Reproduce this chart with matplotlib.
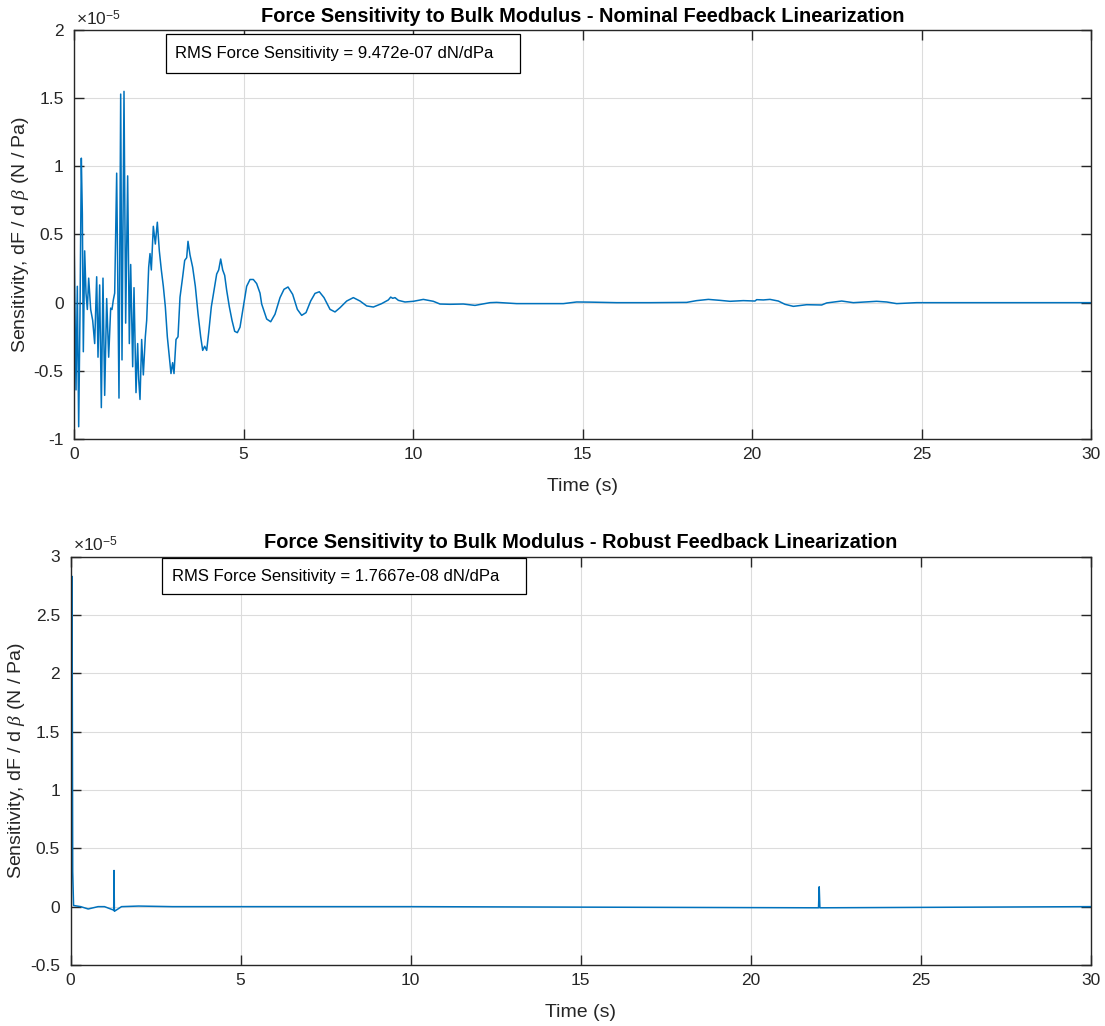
import matplotlib
matplotlib.use("Agg")
import matplotlib.pyplot as plt
from matplotlib.patches import Rectangle
from matplotlib.ticker import FuncFormatter, MultipleLocator

plt.rcParams["font.family"] = ["Liberation Sans", "DejaVu Sans"]
plt.rcParams["axes.unicode_minus"] = False
plt.rcParams["mathtext.fontset"] = "custom"
plt.rcParams["mathtext.rm"] = "Liberation Sans"
plt.rcParams["mathtext.it"] = "Liberation Serif:italic"
plt.rcParams["mathtext.bf"] = "Liberation Sans:bold"

# values are in units of 1e-5 N/Pa (axis shows x10^-5)
t_nominal = [
    0.000, 0.059, 0.098, 0.138, 0.177, 0.216, 0.246, 0.275, 0.315, 0.354,
    0.393, 0.433, 0.492, 0.551, 0.610, 0.669, 0.708, 0.757, 0.806, 0.855,
    0.905, 0.964, 1.023, 1.082, 1.121, 1.160, 1.200, 1.259, 1.327, 1.377,
    1.416, 1.475, 1.524, 1.583, 1.632, 1.672, 1.731, 1.770, 1.829, 1.878,
    1.908, 1.947, 1.996, 2.045, 2.104, 2.144, 2.203, 2.242, 2.281, 2.340,
    2.399, 2.458, 2.517, 2.576, 2.635, 2.694, 2.753, 2.812, 2.861, 2.910,
    2.950, 3.009, 3.068, 3.127, 3.206, 3.265, 3.324, 3.363, 3.422, 3.500,
    3.579, 3.658, 3.737, 3.796, 3.855, 3.914, 3.973, 4.051, 4.130, 4.209,
    4.268, 4.327, 4.386, 4.445, 4.504, 4.582, 4.661, 4.740, 4.818, 4.897,
    4.995, 5.093, 5.192, 5.290, 5.388, 5.487, 5.536, 5.684, 5.802, 5.929,
    6.077, 6.195, 6.313, 6.450, 6.588, 6.716, 6.844, 6.981, 7.109, 7.237,
    7.375, 7.552, 7.699, 7.847, 8.044, 8.240, 8.437, 8.634, 8.830, 9.076,
    9.273, 9.342, 9.401, 9.469, 9.568, 9.764, 10.010, 10.305, 10.600, 10.796,
    11.091, 11.485, 11.829, 12.271, 12.468, 13.058, 13.648, 14.435, 14.828, 15.221,
    16.008, 16.991, 18.073, 18.368, 18.712, 19.056, 19.351, 19.744, 20.088, 20.138,
    20.334, 20.531, 20.777, 20.973, 21.219, 21.612, 22.055, 22.203, 22.645, 22.989,
    23.678, 23.973, 24.268, 24.858, 25.841, 30.000,
]
sens_nominal = [
    0.51, -0.64, 0.12, -0.91, -0.08, 1.06, 0.65, -0.36, 0.38, 0.07,
    -0.05, 0.18, -0.05, -0.13, -0.30, 0.19, -0.40, 0.13, -0.77, 0.18,
    -0.68, 0.03, -0.40, -0.04, -0.05, 0.02, 0.07, 0.95, -0.70, 1.53,
    -0.42, 1.55, -0.15, 0.93, -0.30, 0.28, -0.47, 0.11, -0.66, -0.30,
    -0.56, -0.71, -0.27, -0.53, -0.25, -0.13, 0.26, 0.36, 0.24, 0.56,
    0.43, 0.59, 0.38, 0.24, 0.12, -0.03, -0.25, -0.40, -0.52, -0.44,
    -0.52, -0.27, -0.25, 0.04, 0.19, 0.31, 0.33, 0.45, 0.35, 0.26,
    0.12, -0.08, -0.25, -0.35, -0.32, -0.35, -0.22, -0.03, 0.09, 0.21,
    0.24, 0.32, 0.24, 0.20, 0.09, -0.03, -0.13, -0.21, -0.22, -0.18,
    -0.03, 0.12, 0.17, 0.17, 0.14, 0.07, -0.01, -0.12, -0.14, -0.085,
    0.037, 0.098, 0.115, 0.061, -0.049, -0.093, -0.073, 0.012, 0.068, 0.080,
    0.037, -0.049, -0.068, -0.037, 0.012, 0.037, 0.012, -0.024, -0.032, -0.007,
    0.020, 0.041, 0.032, 0.037, 0.017, 0.005, 0.010, 0.024, 0.010, -0.010,
    -0.012, -0.010, -0.020, 0.000, 0.002, -0.007, -0.007, -0.007, 0.005, 0.004,
    0.000, 0.000, 0.002, 0.015, 0.024, 0.017, 0.010, 0.015, 0.012, 0.022,
    0.020, 0.024, 0.012, -0.012, -0.027, -0.015, -0.017, -0.002, 0.012, 0.000,
    0.010, 0.005, -0.007, 0.000, 0.000, 0.000,
]

t_robust = [0.0, 0.02, 0.045, 0.065, 0.09, 0.3, 0.52, 0.81, 1.0, 1.27, 1.28,
            1.29, 1.5, 2.0, 3.0, 10.0, 21.99, 22.01, 22.03, 30.0]
sens_robust = [-0.05, -0.22, 2.83, 0.3, 0.01, 0.0, -0.02, 0.0, 0.0, -0.03, 0.31,
               -0.04, 0.0, 0.005, 0.0, 0.0, -0.01, 0.17, -0.01, 0.0]

titles = [
    "Force Sensitivity to Bulk Modulus - Nominal Feedback Linearization",
    "Force Sensitivity to Bulk Modulus - Robust Feedback Linearization",
]
rms_labels = [
    "RMS Force Sensitivity = 9.472e-07 dN/dPa",
    "RMS Force Sensitivity = 1.7667e-08 dN/dPa",
]
y_limits = [(-1, 2), (-0.5, 3)]
x_ticks = [0, 5, 10, 15, 20, 25, 30]

dark = "#262626"
line_color = "#0072BD"

fig = plt.figure(figsize=(11.05, 10.26), dpi=100)
ax1 = fig.add_axes([74 / 1105, 1 - 439 / 1026, 1017 / 1105, 409 / 1026])
ax2 = fig.add_axes([70.5 / 1105, 1 - 965 / 1026, 1020.5 / 1105, 408.5 / 1026])

series = [(t_nominal, sens_nominal), (t_robust, sens_robust)]
boxes = [(0.0905, 0.896, 0.348, 0.094), (0.090, 0.908, 0.356, 0.0875)]

for ax, (t, s), title, rms, ylim, box in zip([ax1, ax2], series, titles,
                                           rms_labels, y_limits, boxes):
    ax.plot(t, s, color=line_color, lw=1.1)
    ax.set_xlim(0, 30)
    ax.set_ylim(*ylim)
    ax.set_xticks(x_ticks)
    ax.yaxis.set_major_locator(MultipleLocator(0.5))
    ax.yaxis.set_major_formatter(FuncFormatter(lambda v, p: "%g" % round(v, 3)))
    ax.grid(True, color="#dcdcdc", lw=0.8)
    ax.set_axisbelow(True)
    ax.tick_params(direction="in", length=7, width=1.0, colors=dark,
                   labelsize=12.5, top=True, right=True, pad=6)
    ax.tick_params(axis="y", pad=7.5)
    for sp in ax.spines.values():
        sp.set_color(dark)
        sp.set_linewidth(1.0)
    ax.set_title(title, fontsize=14.4, fontweight="bold", pad=6)
    ax.set_xlabel("Time (s)", fontsize=14, color=dark, labelpad=11)
    ax.set_ylabel(r"Sensitivity, dF / d $\beta$ (N / Pa)", fontsize=14,
                  color=dark, labelpad=2)
    ax.annotate(r"$\times10^{-5}$", xy=(0, 1), xycoords="axes fraction",
                xytext=(1.5, 3.5), textcoords="offset points",
                ha="left", va="baseline", fontsize=12.5, color=dark)
    bx, by, bw, bh = box
    ax.add_patch(Rectangle((bx, by), bw, bh, transform=ax.transAxes,
                           facecolor="white", edgecolor="black", lw=0.9,
                           zorder=5))
    ax.text(bx + 0.009, by + bh / 2, rms, transform=ax.transAxes,
            ha="left", va="center", fontsize=12, color="black", zorder=6)

fig.savefig("out.png", dpi=100, facecolor="white")
